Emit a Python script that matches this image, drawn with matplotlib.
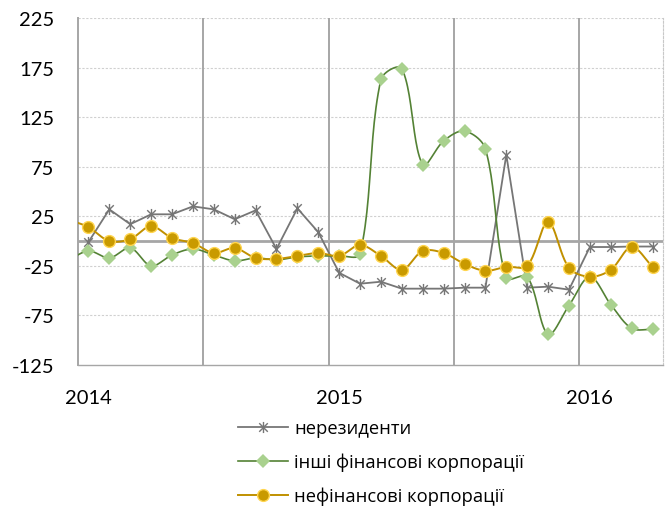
import numpy as np
import matplotlib
matplotlib.use("Agg")
import matplotlib.pyplot as plt
from matplotlib.path import Path
from matplotlib.lines import Line2D

# ---- data (monthly, Jan 2014 .. Apr 2016); a value before the first month is partly visible at the left edge
months = list(range(28))
year_ticks = [0, 12, 24]
year_labels = ["2014", "2015", "2016"]

nonresidents = [-1, 32, 17, 27, 27, 35, 32, 22, 31, -8, 33, 9,
                -32, -43, -41, -48, -48, -48, -47, -47, 87, -47, -46, -49,
                -6, -6, -5.5, -5.5]
other_fin = [-10, -17, -7, -25, -14, -8, -14, -20, -17, -19, -16, -15,
             -15, -13, 163, 174, 77, 101, 111, 93, -37, -36, -94, -65,
             -36, -64, -88, -89]
nonfin = [14, 0, 2, 15, 3, -2, -12, -7, -17, -18, -15, -12,
          -15, -4, -15, -29, -10, -12, -23, -30, -26, -25, 19, -27,
          -36, -29, -6, -26]
prev_other_fin = -20   # month before Jan 2014
prev_nonfin = 22

labels = ["нерезиденти", "інші фінансові корпорації", "нефінансові корпорації"]
yticks = [-125, -75, -25, 25, 75, 125, 175, 225]

PX_X = 585 / 28.0   # pixels per month (for screen-space smoothing)
PX_Y = 347 / 350.0  # pixels per unit


def smooth(x, y, n=24):
    """Excel-like smoothed line: Bezier segments with tangents scaled by segment lengths."""
    X = np.asarray(x, float) * PX_X
    Y = np.asarray(y, float) * PX_Y
    P = np.column_stack([X, Y])
    m = len(P)
    xs, ys = [], []
    for i in range(m - 1):
        p1, p2 = P[i], P[i + 1]
        d12 = np.linalg.norm(p2 - p1)
        if i > 0:
            p0 = P[i - 1]
            d01 = np.linalg.norm(p1 - p0)
            c1 = p1 + (p2 - p0) * d12 / (d01 + d12) / 3.0
        else:
            c1 = p1 + (p2 - p1) / 3.0
        if i + 2 < m:
            p3 = P[i + 2]
            d23 = np.linalg.norm(p3 - p2)
            c2 = p2 - (p3 - p1) * d12 / (d12 + d23) / 3.0
        else:
            c2 = p2 - (p2 - p1) / 3.0
        t = np.linspace(0, 1, n, endpoint=False)[:, None]
        pts = ((1 - t) ** 3) * p1 + 3 * ((1 - t) ** 2) * t * c1 + 3 * (1 - t) * t ** 2 * c2 + t ** 3 * p2
        xs.append(pts[:, 0]); ys.append(pts[:, 1])
    xs.append([P[-1, 0]]); ys.append([P[-1, 1]])
    return np.concatenate(xs) / PX_X, np.concatenate(ys) / PX_Y


# star marker (X plus vertical bar)
star = Path([(-1, -1), (1, 1), (-1, 1), (1, -1), (0, -1.3), (0, 1.3)],
            [Path.MOVETO, Path.LINETO, Path.MOVETO, Path.LINETO, Path.MOVETO, Path.LINETO])

fig = plt.figure(figsize=(6.72, 5.10), dpi=100)
ax = fig.add_axes([78 / 672, 1 - 366 / 510, (663 - 78) / 672, (366 - 19) / 510])

ax.set_xlim(-0.5, 27.5)
ax.set_ylim(-125, 225)

# grid
for yv in yticks[1:]:
    ax.axhline(yv, color="#d0d0d0", lw=0.8, ls=(0, (2, 1.5)), zorder=0)
for xv in [5.5, 11.5, 17.5, 23.5]:
    ax.axvline(xv, color="#a6a6a6", lw=1.4, zorder=0.5)
ax.axhline(0, color="#a6a6a6", lw=2.0, zorder=0.6)

gray = "#767676"
green_line = "#548235"
green_fill = "#a9d18e"
gold_line = "#c09000"
gold_fill = "#c99a00"
gold_edge = "#ffd54f"

# non-residents (straight)
ax.plot(months, nonresidents, color=gray, lw=1.3, zorder=3)
ax.plot(months, nonresidents, ls="none", marker=star, ms=8, mec=gray, mew=1.0, zorder=4)

# other financial corporations (smoothed)
sx, sy = smooth([-1] + months, [prev_other_fin] + other_fin)
ax.plot(sx, sy, color=green_line, lw=1.2, zorder=3)
ax.plot(months, other_fin, ls="none", marker="D", ms=7, mfc=green_fill, mec=green_fill, mew=0, zorder=4)

# non-financial corporations (smoothed)
sx, sy = smooth([-1] + months, [prev_nonfin] + nonfin)
ax.plot(sx, sy, color=gold_line, lw=1.4, zorder=5)
ax.plot(months, nonfin, ls="none", marker="o", ms=8.5, mfc=gold_fill, mec=gold_edge, mew=1.0, zorder=6)

# spines
ax.spines["top"].set_visible(False)
ax.spines["left"].set_color("#a6a6a6")
ax.spines["left"].set_linewidth(1.4)
ax.spines["bottom"].set_color("#a6a6a6")
ax.spines["bottom"].set_linewidth(1.0)
ax.spines["right"].set_color("#c8c8c8")
ax.spines["right"].set_linestyle((0, (2, 1.5)))
ax.spines["right"].set_linewidth(0.8)

ax.set_yticks(yticks)
ax.set_yticklabels([str(v) for v in yticks], fontsize=14.5, family=["Lato", "DejaVu Sans"])
ax.set_xticks(year_ticks)
ax.set_xticklabels(year_labels, fontsize=14.5, family=["Lato", "DejaVu Sans"])
ax.tick_params(axis="both", length=0)
ax.tick_params(axis="y", pad=17)
ax.tick_params(axis="x", pad=17)

# legend
handles = [
    Line2D([], [], color=gray, lw=1.3, marker=star, ms=8, mec=gray, mew=1.0),
    Line2D([], [], color=green_line, lw=1.2, marker="D", ms=7, mfc=green_fill, mec=green_fill, mew=0),
    Line2D([], [], color=gold_line, lw=1.4, marker="o", ms=8.5, mfc=gold_fill, mec=gold_edge, mew=1.0),
]
fig.legend(handles, labels, loc="upper left", bbox_to_anchor=(238 / 672, 1 - 420 / 510),
           frameon=False, borderpad=0, borderaxespad=0, handlelength=2.75, handletextpad=0.3,
           labelspacing=0.85, prop={"family": "Open Sans", "size": 13.2})

fig.savefig("out.png", dpi=100)
